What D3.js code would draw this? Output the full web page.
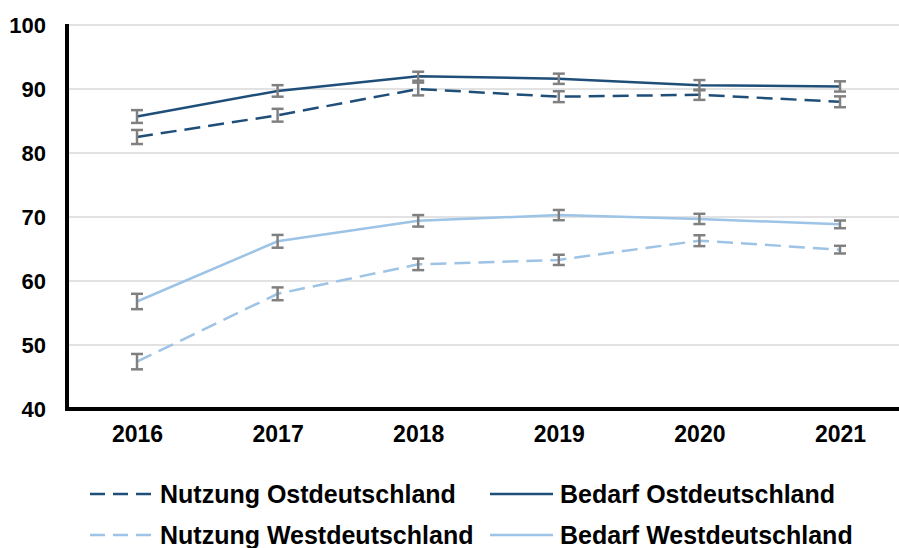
<!DOCTYPE html>
<html>
<head>
<meta charset="utf-8">
<script src="https://cdn.jsdelivr.net/npm/d3@7"></script>
<style>
  body { margin: 0; background: #fff; }
  svg { display: block; font-family: "Liberation Sans", Arial, sans-serif; font-weight: bold; }
</style>
</head>
<body>
<div id="chart"></div>
<script>
var years = ["2016", "2017", "2018", "2019", "2020", "2021"];
var yTicks = [40, 50, 60, 70, 80, 90, 100];

// values and half-width of the error bars
var nutzungOst = [82.5, 85.9, 90.0, 88.8, 89.1, 88.0];
var nutzungOstErr = [1.1, 1.0, 1.0, 0.85, 0.8, 0.85];
var bedarfOst = [85.7, 89.7, 92.0, 91.6, 90.6, 90.4];
var bedarfOstErr = [1.0, 0.9, 0.7, 0.8, 0.8, 0.8];
var nutzungWest = [47.4, 58.0, 62.6, 63.3, 66.3, 64.9];
var nutzungWestErr = [1.2, 1.0, 0.9, 0.8, 0.85, 0.6];
var bedarfWest = [56.8, 66.2, 69.4, 70.3, 69.7, 68.85];
var bedarfWestErr = [1.2, 1.0, 0.9, 0.8, 0.8, 0.6];

var series = [
    { name: "Nutzung Ostdeutschland", values: nutzungOst, err: nutzungOstErr, color: "#1f4e79", dash: "16,8" },
    { name: "Bedarf Ostdeutschland", values: bedarfOst, err: bedarfOstErr, color: "#1f4e79", dash: null },
    { name: "Nutzung Westdeutschland", values: nutzungWest, err: nutzungWestErr, color: "#9dc3e6", dash: "16,8" },
    { name: "Bedarf Westdeutschland", values: bedarfWest, err: bedarfWestErr, color: "#9dc3e6", dash: null }
];

var w = 899, h = 548;
var plotLeft = 67, plotTop = 25, plotBottom = 409, plotRight = 899;

var svg = d3.select("#chart").append("svg")
    .attr("width", w)
    .attr("height", h);

var x = d3.scalePoint().domain(years).range([137, 840]);
var y = d3.scaleLinear().domain([40, 100]).range([plotBottom, plotTop]);

// gridlines
svg.append("g")
    .selectAll("line")
    .data(yTicks.filter(d => d > 40))
    .join("line")
    .attr("x1", plotLeft).attr("x2", plotRight)
    .attr("y1", d => y(d)).attr("y2", d => y(d))
    .attr("stroke", "#d9d9d9")
    .attr("stroke-width", 1.5);

// y axis
var yAxis = d3.axisLeft(y).tickValues(yTicks).tickSize(0).tickPadding(21);
var gy = svg.append("g").attr("transform", "translate(" + plotLeft + ",0)").call(yAxis);
gy.select(".domain").remove();
gy.selectAll("text").attr("font-size", 22).attr("font-weight", "bold").attr("fill", "#000")
    .attr("font-family", "Liberation Sans, Arial, sans-serif");

// x axis
var xAxis = d3.axisBottom(x).tickSize(0).tickPadding(17);
var gx = svg.append("g").attr("transform", "translate(0," + plotBottom + ")").call(xAxis);
gx.select(".domain").remove();
gx.selectAll("text").attr("font-size", 23).attr("font-weight", "bold").attr("fill", "#000")
    .attr("font-family", "Liberation Sans, Arial, sans-serif");

// axis lines
svg.append("line").attr("x1", plotLeft).attr("x2", plotLeft).attr("y1", plotTop - 1).attr("y2", plotBottom + 2)
    .attr("stroke", "#000").attr("stroke-width", 4);
svg.append("line").attr("x1", plotLeft - 2).attr("x2", plotRight).attr("y1", plotBottom).attr("y2", plotBottom)
    .attr("stroke", "#000").attr("stroke-width", 4);

var line = d3.line()
    .x((d, i) => x(years[i]))
    .y(d => y(d));

// series lines
series.forEach(function (s) {
    svg.append("path")
        .datum(s.values)
        .attr("d", line)
        .attr("fill", "none")
        .attr("stroke", s.color)
        .attr("stroke-width", 2.5)
        .attr("stroke-dasharray", s.dash);
});

// error bars
series.forEach(function (s) {
    var g = svg.append("g").attr("stroke", "#808080").attr("stroke-width", 2.5);
    s.values.forEach(function (v, i) {
        var cx = x(years[i]);
        var lo = y(v - s.err[i]), hi = y(v + s.err[i]);
        g.append("line").attr("x1", cx).attr("x2", cx).attr("y1", lo).attr("y2", hi);
        g.append("line").attr("x1", cx - 6).attr("x2", cx + 6).attr("y1", lo).attr("y2", lo);
        g.append("line").attr("x1", cx - 6).attr("x2", cx + 6).attr("y1", hi).attr("y2", hi);
    });
});

// legend
var legendPos = [[90, 494], [490, 494], [90, 535], [490, 535]];
series.forEach(function (s, i) {
    var p = legendPos[i];
    svg.append("line")
        .attr("x1", p[0]).attr("x2", p[0] + 63)
        .attr("y1", p[1]).attr("y2", p[1])
        .attr("stroke", s.color)
        .attr("stroke-width", 2.5)
        .attr("stroke-dasharray", s.dash ? "15,8" : null);
    svg.append("text")
        .attr("x", p[0] + 70)
        .attr("y", p[1] + 9)
        .attr("font-size", 25)
        .attr("fill", "#000")
        .text(s.name);
});
</script>
</body>
</html>
